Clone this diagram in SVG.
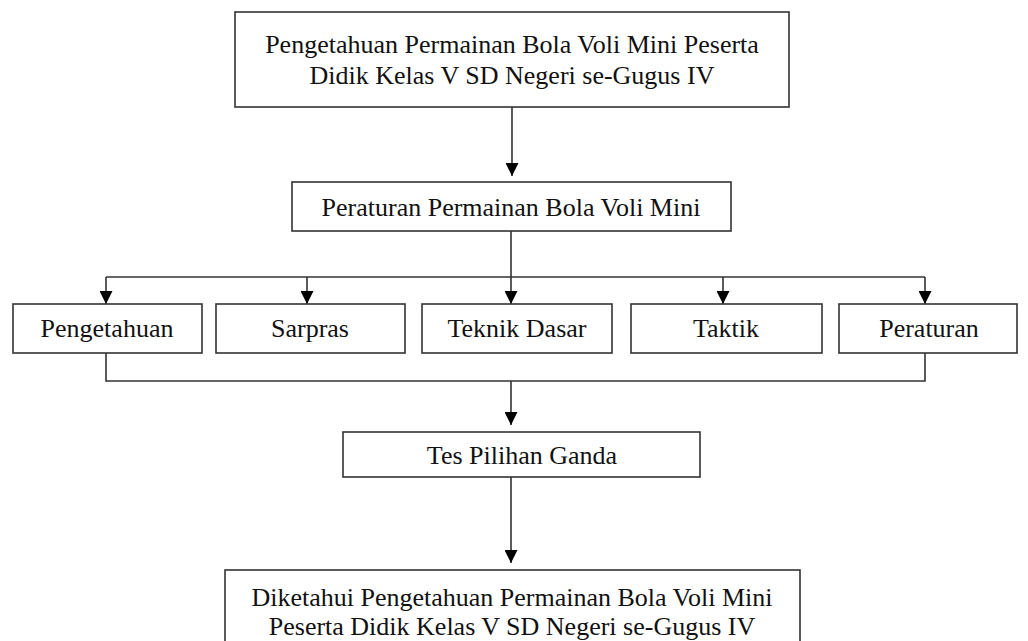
<svg xmlns="http://www.w3.org/2000/svg" width="1028" height="641" viewBox="0 0 1028 641">
<defs>
<marker id="ah" viewBox="0 0 12 12" refX="12" refY="6" markerWidth="13" markerHeight="13" markerUnits="userSpaceOnUse" orient="auto">
<path d="M0,0 L12,6 L0,12 Z" fill="#000"/>
</marker>
<style>
.box{fill:#fff;stroke:#333;stroke-width:1.6}
.t{font-family:"Liberation Serif","Times New Roman",serif;font-size:26px;fill:#111;text-anchor:middle}
.c{fill:none;stroke:#333;stroke-width:1.6}
</style>
</defs>
<rect width="1028" height="641" fill="#fff"/>
<g id="connectors">
<line class="c" x1="512" y1="107" x2="512" y2="176" marker-end="url(#ah)"/>
<line class="c" x1="511" y1="231" x2="511" y2="277"/>
<line class="c" x1="106" y1="277" x2="925" y2="277"/>
<line class="c" x1="106" y1="277" x2="106" y2="304" marker-end="url(#ah)"/>
<line class="c" x1="307" y1="277" x2="307" y2="304" marker-end="url(#ah)"/>
<line class="c" x1="511" y1="277" x2="511" y2="304" marker-end="url(#ah)"/>
<line class="c" x1="723" y1="277" x2="723" y2="304" marker-end="url(#ah)"/>
<line class="c" x1="925" y1="277" x2="925" y2="304" marker-end="url(#ah)"/>
<polyline class="c" points="106,353 106,381 925,381 925,353"/>
<line class="c" x1="511" y1="381" x2="511" y2="425" marker-end="url(#ah)"/>
<line class="c" x1="511" y1="477" x2="511" y2="563" marker-end="url(#ah)"/>
</g>
<g id="n1"><rect class="box" x="235" y="12" width="554" height="95"/>
<text class="t" x="512" y="53">Pengetahuan Permainan Bola Voli Mini Peserta</text>
<text class="t" x="512" y="84">Didik Kelas V SD Negeri se-Gugus IV</text></g>
<g id="n2"><rect class="box" x="292" y="182" width="439" height="49"/>
<text class="t" x="511" y="216">Peraturan Permainan Bola Voli Mini</text></g>
<g id="n3"><rect class="box" x="13" y="304" width="189" height="49"/>
<text class="t" x="107" y="337">Pengetahuan</text></g>
<g id="n4"><rect class="box" x="216" y="304" width="189" height="49"/>
<text class="t" x="310" y="337">Sarpras</text></g>
<g id="n5"><rect class="box" x="422" y="304" width="190" height="49"/>
<text class="t" x="517" y="337">Teknik Dasar</text></g>
<g id="n6"><rect class="box" x="631" y="304" width="191" height="49"/>
<text class="t" x="726" y="337">Taktik</text></g>
<g id="n7"><rect class="box" x="839" y="304" width="178" height="49"/>
<text class="t" x="929" y="337">Peraturan</text></g>
<g id="n8"><rect class="box" x="343" y="432" width="357" height="45"/>
<text class="t" x="522" y="464">Tes Pilihan Ganda</text></g>
<g id="n9"><rect class="box" x="225" y="570" width="575" height="90"/>
<text class="t" x="512" y="606">Diketahui Pengetahuan Permainan Bola Voli Mini</text>
<text class="t" x="512" y="635">Peserta Didik Kelas V SD Negeri se-Gugus IV</text></g>
</svg>
